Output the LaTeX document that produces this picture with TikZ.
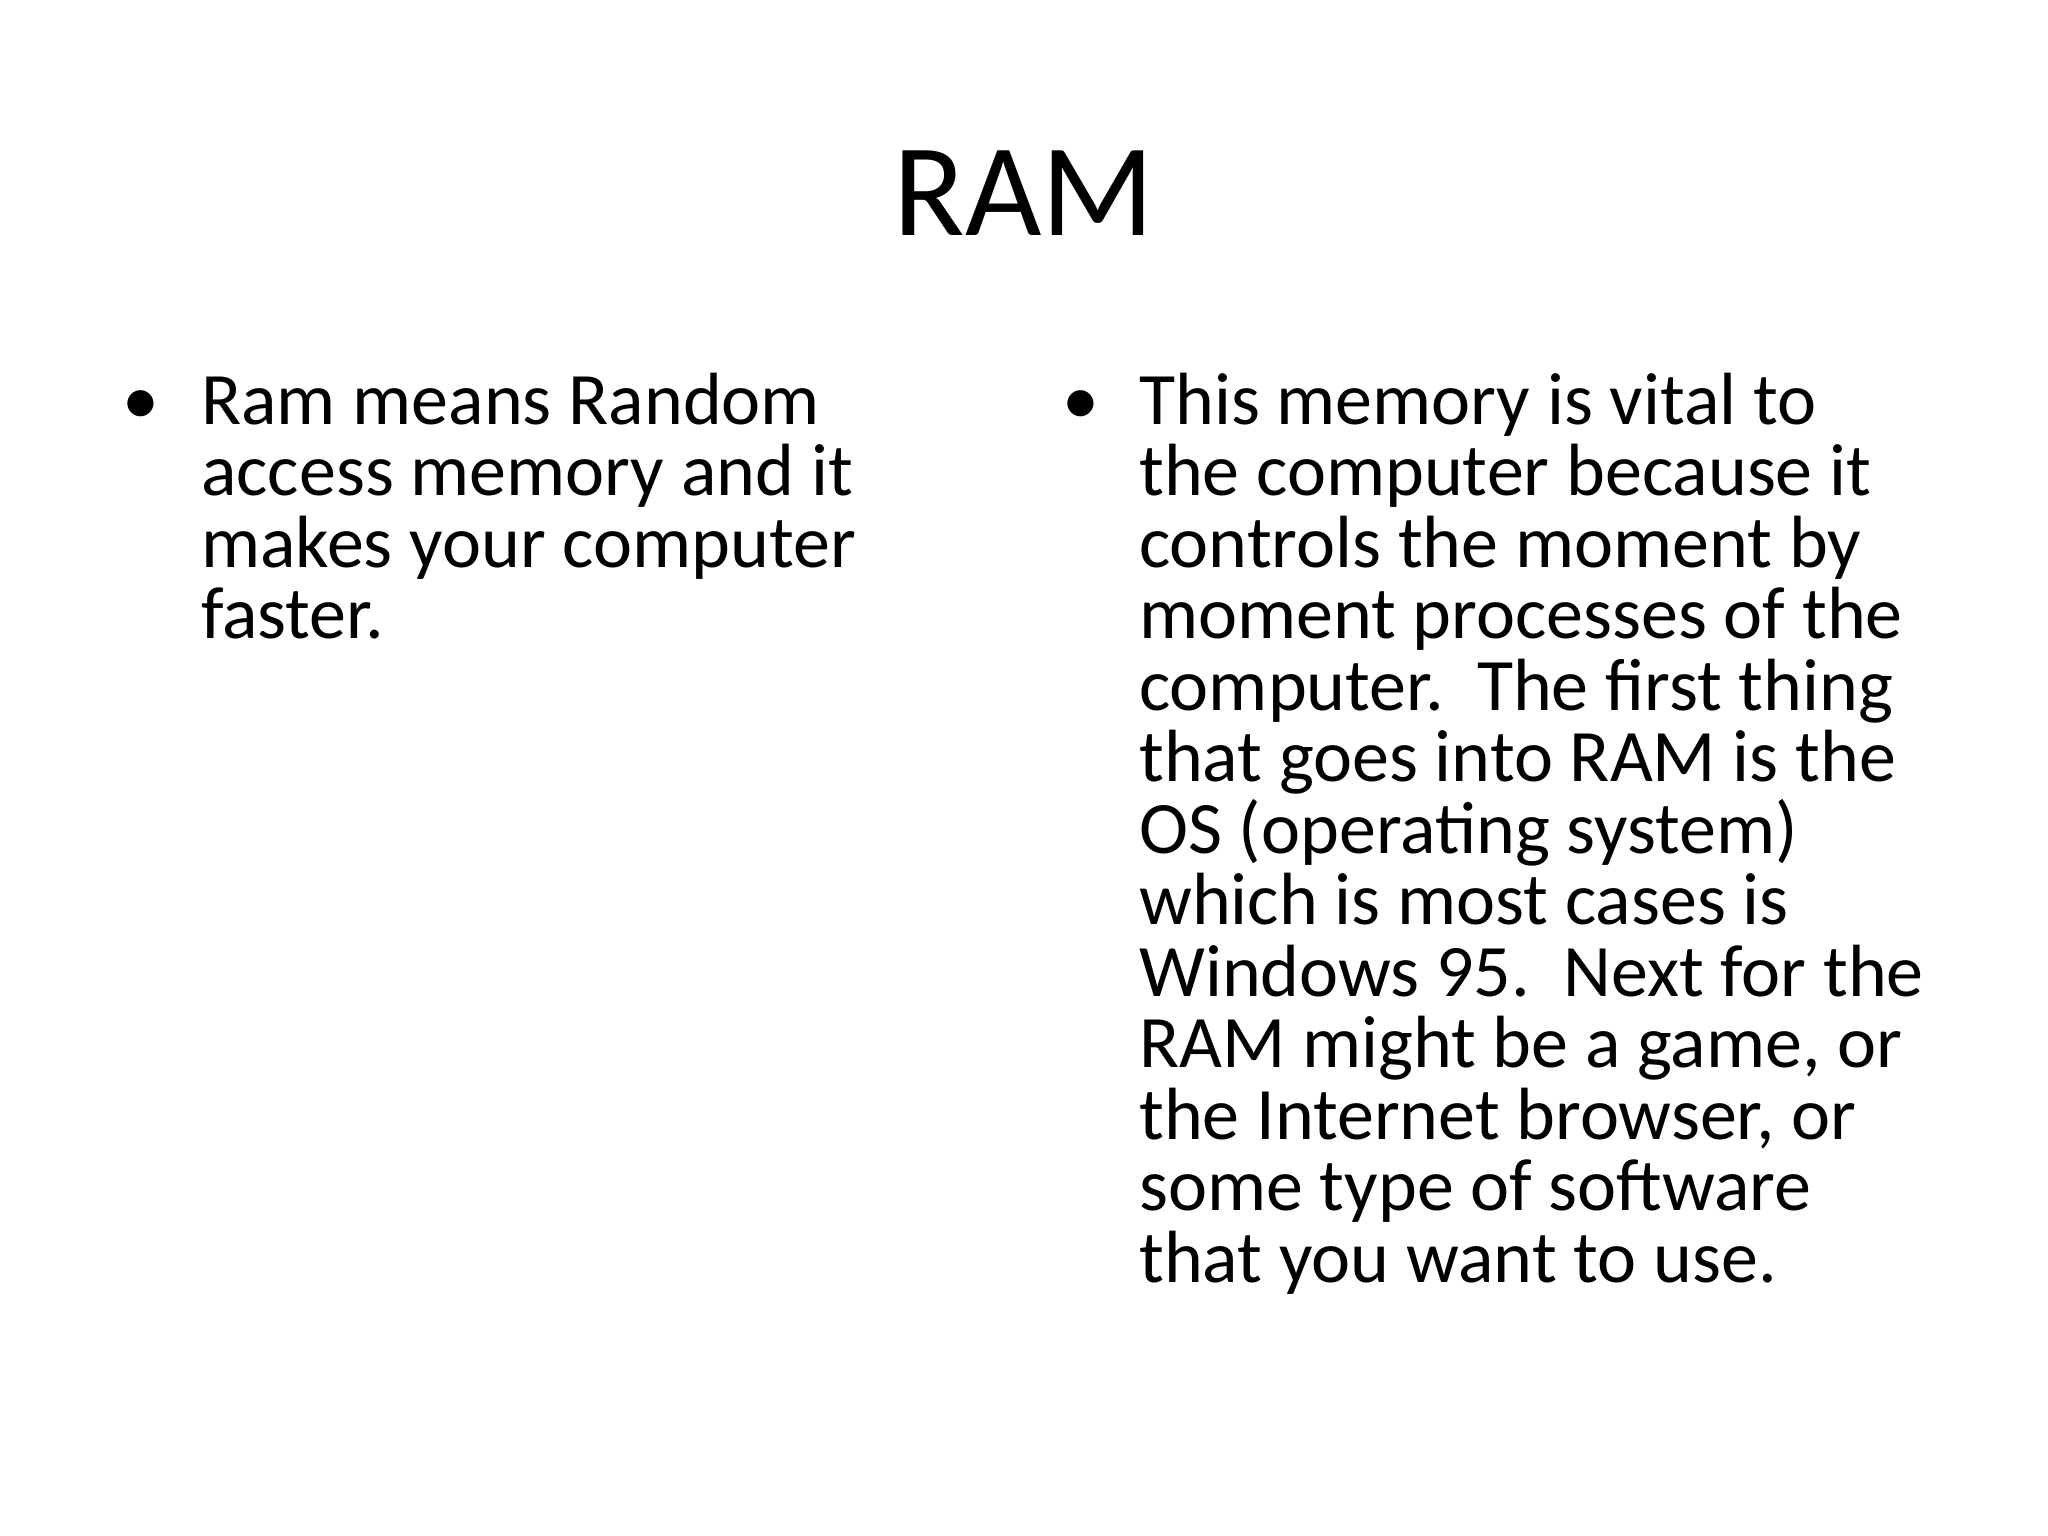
\documentclass[tikz,border=0pt]{standalone}
\usepackage{fontspec}
\setmainfont{Carlito}
\begin{document}
\begin{tikzpicture}[x=1pt,y=-1pt,
  body/.style={anchor=base west,inner sep=0pt,font=\fontsize{74pt}{71.5pt}\selectfont},
  bul/.style={anchor=base west,inner sep=0pt,font=\fontsize{74pt}{71.5pt}\selectfont}]
\useasboundingbox[fill=white] (0,0) rectangle (2048,1536);
\node[anchor=center,inner sep=0pt,font=\fontsize{132pt}{150pt}\selectfont] (title) at (1024,193) {RAM};
\node[bul] (b1) at (122,424) {•};
\node[body] (t1) at (201,424) {\parbox[t]{800pt}{\raggedright
Ram means Random\\ access memory and it\\ makes your computer\\ faster.}};
\node[bul] (b2) at (1062,424) {•};
\node[body] (t2) at (1139,424) {\parbox[t]{880pt}{\raggedright
This memory is vital to\\ the computer because it\\ controls the moment by\\ moment processes of the\\ computer.\ \ The first thing\\ that goes into RAM is the\\ OS (operating system)\\ which is most cases is\\ Windows 95.\ \ Next for the\\ RAM might be a game, or\\ the Internet browser, or\\ some type of software\\ that you want to use.}};
\end{tikzpicture}
\end{document}
